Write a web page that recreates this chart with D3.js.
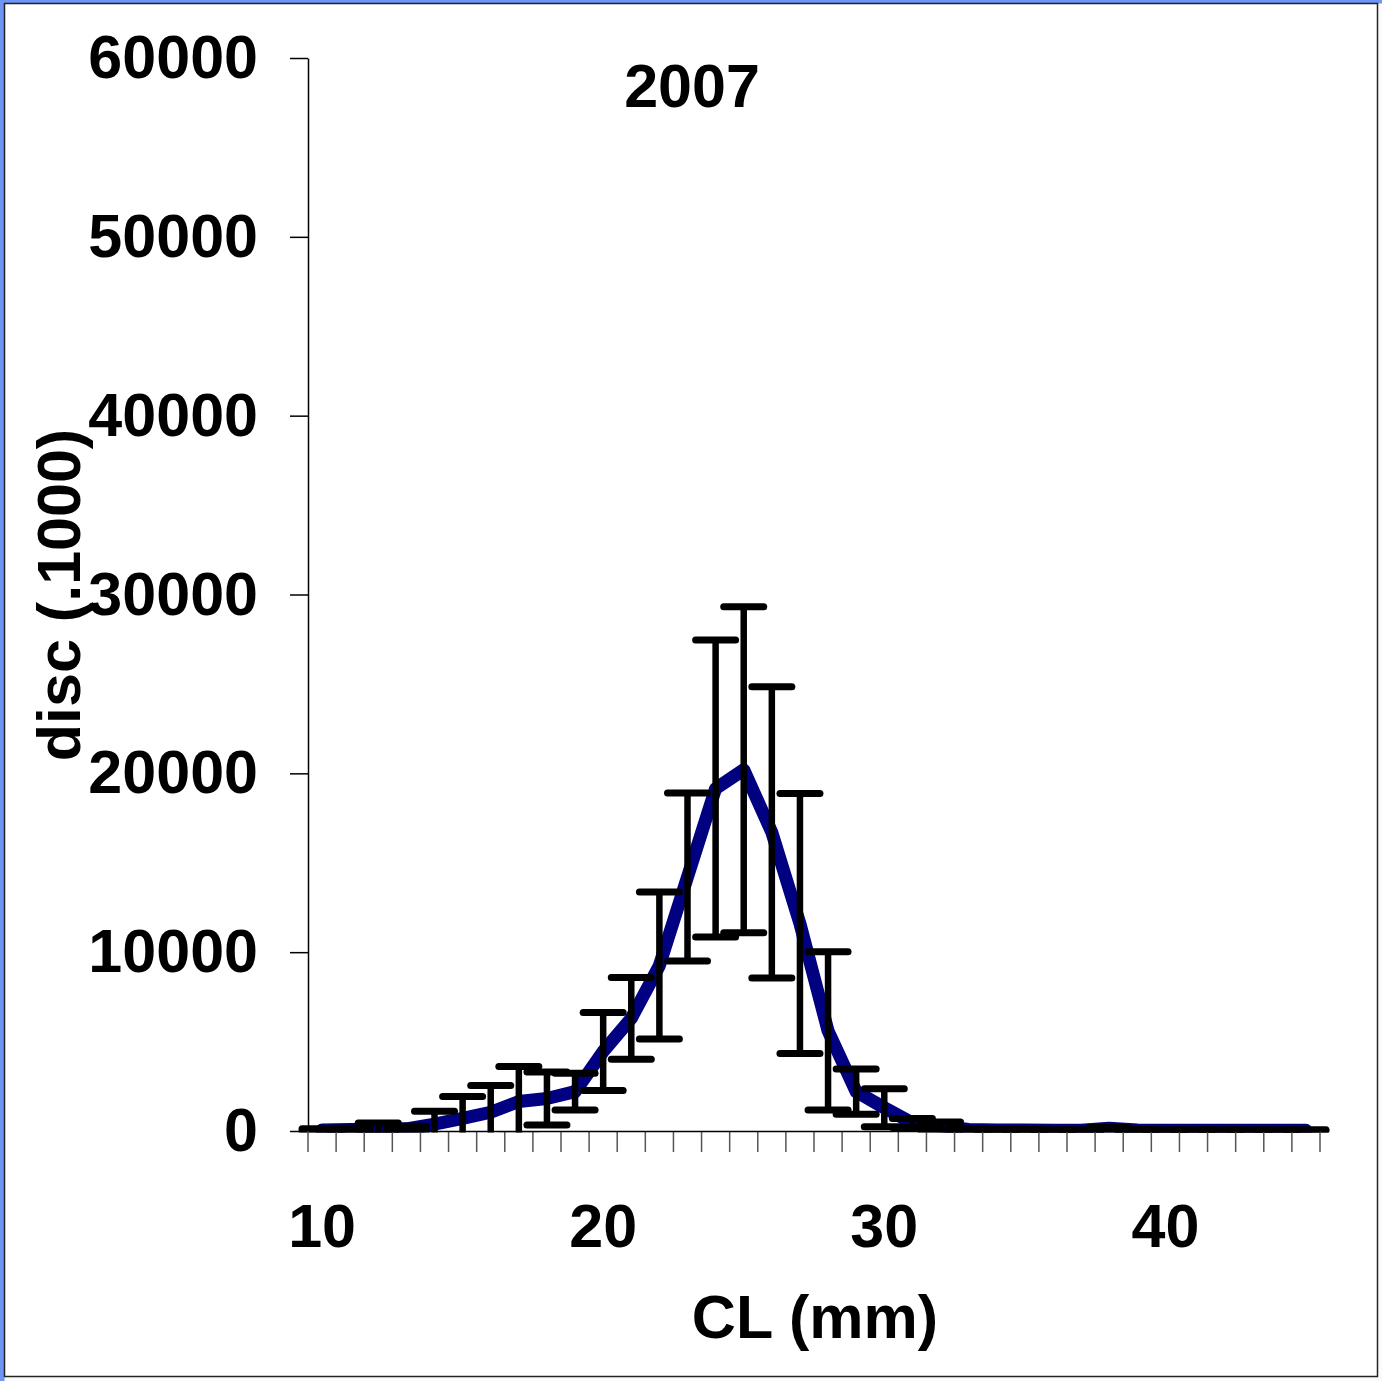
<!DOCTYPE html>
<html>
<head>
<meta charset="utf-8">
<script src="https://cdn.jsdelivr.net/npm/d3@7"></script>
<style>
  html, body { margin: 0; padding: 0; background: #ffffff; }
  svg { display: block; }
</style>
</head>
<body>
<script>
// Carapace length classes (mm)
const categories = [10, 11, 12, 13, 14, 15, 16, 17, 18, 19, 20, 21, 22, 23, 24, 25, 26, 27,
                    28, 29, 30, 31, 32, 33, 34, 35, 36, 37, 38, 39, 40, 41, 42, 43, 44, 45];
// Discards (x1000) per length class
const discValues = [60, 80, 100, 120, 380, 700, 1050, 1650, 1820, 2200, 4450, 6300, 9250, 14200, 19150, 20200, 16700, 11600,
                    5600, 2200, 1300, 450, 280, 80, 50, 50, 40, 40, 150, 60, 40, 40, 40, 40, 40, 40];
// Error (half-width of the bar) per length class
const discErrors = [60, 80, 350, 150, 720, 1230, 1500, 1950, 1480, 1030, 2180, 2290, 4110, 4700, 8300, 9120, 8140, 7270,
                    4420, 1260, 1060, 250, 220, 60, 30, 30, 30, 30, 40, 30, 30, 30, 30, 30, 30, 30];
const yTickValues = [0, 10000, 20000, 30000, 40000, 50000, 60000];
const xLabelled = [10, 20, 30, 40];

const W = 1382, H = 1381;
const FONT = "'Liberation Sans', Arial, Helvetica, sans-serif";
const plotLeft = 308, plotRight = 1320, plotTop = 58, plotBottom = 1131;

const svg = d3.select("body").append("svg")
  .attr("width", W).attr("height", H)
  .attr("viewBox", `0 0 ${W} ${H}`);

// Window frame: blue edge on the left and top, dark border round the sheet
svg.append("rect").attr("x", 0).attr("y", 0).attr("width", W).attr("height", H).attr("fill", "#fbfbfb");
svg.append("rect").attr("x", 0).attr("y", 0).attr("width", W).attr("height", 3.5).attr("fill", "#6f95f4");
svg.append("rect").attr("x", 0).attr("y", 0).attr("width", 4.5).attr("height", H).attr("fill", "#6f95f4");
svg.append("rect").attr("x", 4.5).attr("y", 3.5).attr("width", 1373).attr("height", 1373)
  .attr("fill", "#ffffff").attr("stroke", "#222").attr("stroke-width", 1.5);

const x = d3.scaleBand().domain(categories).range([plotLeft, plotRight]).padding(0);
const y = d3.scaleLinear().domain([0, 60000]).range([plotBottom, plotTop]);
const cx = c => x(c) + x.bandwidth() / 2;

const data = categories.map((c, i) => ({ c, v: discValues[i], e: discErrors[i] }));

svg.append("clipPath").attr("id", "plotClip")
  .append("rect").attr("x", plotLeft - 40).attr("y", 0)
  .attr("width", plotRight - plotLeft + 80).attr("height", plotBottom + 1.5);

const plot = svg.append("g").attr("clip-path", "url(#plotClip)");

// Series line
plot.append("path")
  .datum(data)
  .attr("fill", "none")
  .attr("stroke", "#000080")
  .attr("stroke-width", 13)
  .attr("stroke-linejoin", "round")
  .attr("stroke-linecap", "round")
  .attr("d", d3.line().x(d => cx(d.c)).y(d => y(d.v)));

// Error bars
const eb = plot.append("g").attr("stroke", "#000").attr("stroke-linecap", "round");
const bars = eb.selectAll("g").data(data).join("g");
bars.append("line")
  .attr("x1", d => cx(d.c)).attr("x2", d => cx(d.c))
  .attr("y1", d => y(d.v + d.e)).attr("y2", d => y(d.v - d.e))
  .attr("stroke-width", 6.5).attr("stroke-linecap", "butt");
bars.append("line")
  .attr("x1", d => cx(d.c) - 20).attr("x2", d => cx(d.c) + 20)
  .attr("y1", d => y(d.v + d.e)).attr("y2", d => y(d.v + d.e))
  .attr("stroke-width", 7);
bars.append("line")
  .attr("x1", d => cx(d.c) - 20).attr("x2", d => cx(d.c) + 20)
  .attr("y1", d => y(d.v - d.e)).attr("y2", d => y(d.v - d.e))
  .attr("stroke-width", 7);

// Y axis
const yAxis = svg.append("g")
  .attr("transform", `translate(${plotLeft},0)`)
  .call(d3.axisLeft(y).tickValues(yTickValues).tickSize(18).tickSizeOuter(0).tickPadding(32).tickFormat(d3.format("d")));
yAxis.select(".domain").attr("stroke", "#000").attr("stroke-width", 1.5);
yAxis.selectAll(".tick line").attr("stroke", "#000").attr("stroke-width", 1.5);
yAxis.selectAll("text")
  .attr("font-family", FONT).attr("font-weight", "bold").attr("font-size", 61).attr("fill", "#000");

// X axis: category boundary ticks
const xBounds = categories.map(c => x(c)).concat([x.range()[1]]);
svg.append("g").selectAll("line").data(xBounds).join("line")
  .attr("x1", d => d).attr("x2", d => d)
  .attr("y1", plotBottom).attr("y2", plotBottom + 21)
  .attr("stroke", "#555").attr("stroke-width", 1.5);

const xAxis = svg.append("g")
  .attr("transform", `translate(0,${plotBottom})`)
  .call(d3.axisBottom(x).tickValues(xLabelled).tickSize(0).tickPadding(73));
xAxis.select(".domain").attr("stroke", "#000").attr("stroke-width", 1.5);
xAxis.selectAll("text")
  .attr("font-family", FONT).attr("font-weight", "bold").attr("font-size", 61).attr("fill", "#000");

// Titles
svg.append("text")
  .attr("x", 692).attr("y", 107)
  .attr("text-anchor", "middle")
  .attr("font-family", FONT).attr("font-weight", "bold").attr("font-size", 61)
  .text("2007");

svg.append("text")
  .attr("transform", "translate(80,595) rotate(-90)")
  .attr("text-anchor", "middle")
  .attr("font-family", FONT).attr("font-weight", "bold").attr("font-size", 61)
  .text("disc (.1000)");

svg.append("text")
  .attr("x", 815).attr("y", 1338)
  .attr("text-anchor", "middle")
  .attr("font-family", FONT).attr("font-weight", "bold").attr("font-size", 61)
  .text("CL (mm)");
</script>
</body>
</html>
